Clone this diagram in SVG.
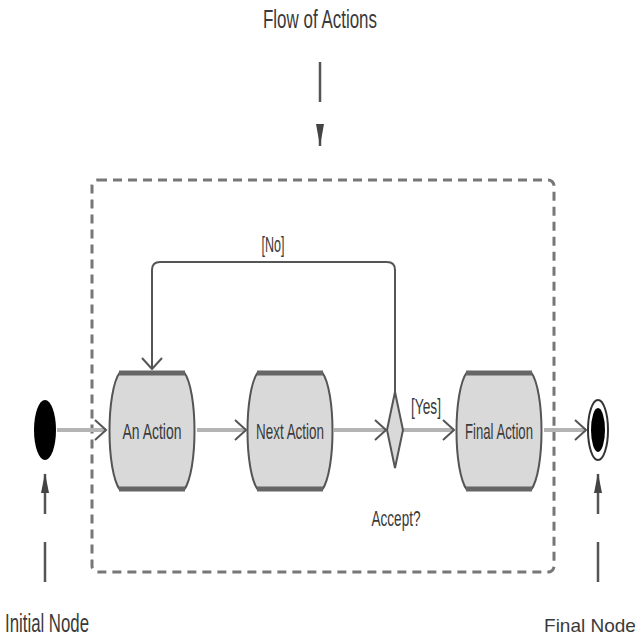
<svg xmlns="http://www.w3.org/2000/svg" xmlns:xlink="http://www.w3.org/1999/xlink" width="640" height="640" viewBox="0 0 640 640">
<style>
text{font-family:"Liberation Sans",Arial,sans-serif;fill:#3a3a3a;text-anchor:middle}
.lbl{font-size:25px}
.small{font-size:22px}
.flow{stroke:#b4b4b4;stroke-width:4;fill:none}
.loop{stroke:#555;stroke-width:2;fill:none}
.note{stroke:#555;stroke-width:2.5;fill:none;stroke-dasharray:40 28}
.act{fill:#d9d9d9;stroke:#555;stroke-width:2}
.bar{stroke:#666;stroke-width:5}
</style>
<defs>
<marker id="open" markerWidth="14" markerHeight="22" refX="12" refY="11" orient="auto" markerUnits="userSpaceOnUse">
<path d="M1,1 L12,11 L1,21" fill="none" stroke="#555" stroke-width="2"/>
</marker>
<marker id="solid" markerWidth="10" markerHeight="22" refX="5" refY="1" orient="0" markerUnits="userSpaceOnUse">
<path d="M5,0 L9,20 L1,20 Z" fill="#444"/>
</marker>
<marker id="solidDown" markerWidth="10" markerHeight="26" refX="5" refY="25" orient="0" markerUnits="userSpaceOnUse">
<path d="M5,25 L9,3 L1,3 Z" fill="#444"/>
</marker>
<g id="actionShape">
<path class="act" d="M-32,-59 H32 C46,-40 46,40 32,59 H-32 C-46,40 -46,-40 -32,-59 Z"/>
<line class="bar" x1="-33" y1="-58" x2="33" y2="-58"/>
<line class="bar" x1="-33" y1="58" x2="33" y2="58"/>
</g>
</defs>
<rect width="640" height="640" fill="#fff"/>

<g id="frame">
<rect x="92" y="180" width="462" height="392" rx="6" fill="none" stroke="#777" stroke-width="3" stroke-dasharray="9 6"/>
</g>

<g id="connectors">
<line class="flow" x1="57" y1="430" x2="106" y2="430" marker-end="url(#open)"/>
<line class="flow" x1="197" y1="430" x2="246" y2="430" marker-end="url(#open)"/>
<line class="flow" x1="334" y1="430" x2="386" y2="430" marker-end="url(#open)"/>
<line class="flow" x1="403" y1="430" x2="454" y2="430" marker-end="url(#open)"/>
<line class="flow" x1="544" y1="430" x2="586" y2="430" marker-end="url(#open)"/>
<path class="loop" d="M395,392 V270 Q395,262 387,262 H160 Q152,262 152,270 V369" marker-end="url(#open)"/>
<line class="note" x1="320" y1="62" x2="320" y2="146" marker-end="url(#solidDown)"/>
<line class="note" x1="45" y1="582" x2="45" y2="474" marker-end="url(#solid)"/>
<line class="note" x1="598" y1="582" x2="598" y2="474" marker-end="url(#solid)"/>
</g>

<g id="title"><text class="lbl" x="320" y="28" textLength="114" lengthAdjust="spacingAndGlyphs">Flow of Actions</text></g>

<g id="initial-node">
<ellipse cx="45" cy="430" rx="11" ry="30" fill="#000"/>
</g>

<g id="an-action">
<use xlink:href="#actionShape" transform="translate(152,431)"/>
<text class="small" x="152" y="439" textLength="59" lengthAdjust="spacingAndGlyphs">An Action</text>
</g>

<g id="next-action">
<use xlink:href="#actionShape" transform="translate(290,431)"/>
<text class="small" x="290" y="439" textLength="68" lengthAdjust="spacingAndGlyphs">Next Action</text>
</g>

<g id="decision">
<path d="M395,392 L403,430 L395,468 L387,430 Z" fill="#d9d9d9" stroke="#555" stroke-width="2"/>
<text class="small" x="396" y="526" textLength="49" lengthAdjust="spacingAndGlyphs">Accept?</text>
</g>

<g id="final-action">
<use xlink:href="#actionShape" transform="translate(499,431)"/>
<text class="small" x="499" y="439" textLength="68" lengthAdjust="spacingAndGlyphs">Final Action</text>
</g>

<g id="final-node">
<ellipse cx="598" cy="430" rx="10" ry="30" fill="#fff" stroke="#333" stroke-width="2"/>
<ellipse cx="598" cy="430" rx="7" ry="22" fill="#000"/>
</g>

<g id="guards">
<text class="small" x="426" y="414" textLength="30" lengthAdjust="spacingAndGlyphs">[Yes]</text>
<text class="small" x="273" y="252" textLength="23" lengthAdjust="spacingAndGlyphs">[No]</text>
</g>

<g id="labels">
<text class="lbl" x="47" y="632" textLength="84" lengthAdjust="spacingAndGlyphs">Initial Node</text>
<text x="590" y="632" style="font-size:19px">Final Node</text>
</g>
</svg>
